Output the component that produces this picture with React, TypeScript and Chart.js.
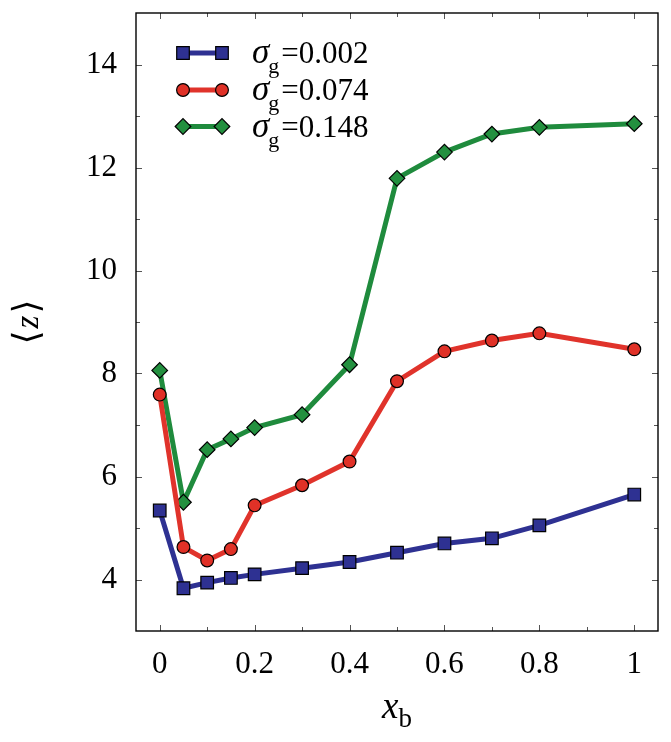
import React, { useEffect, useRef } from 'react';
import { Chart, registerables } from 'chart.js';

Chart.register(...registerables);

// Mean cluster size <z> versus x_b for three values of sigma_g
const xValues = [0, 0.05, 0.1, 0.15, 0.2, 0.3, 0.4, 0.5, 0.6, 0.7, 0.8, 1.0];
const zSigma002 = [5.34, 3.83, 3.94, 4.03, 4.1, 4.22, 4.34, 4.52, 4.7, 4.8, 5.05, 5.65];
const zSigma074 = [7.59, 4.63, 4.37, 4.59, 5.44, 5.83, 6.29, 7.85, 8.43, 8.64, 8.78, 8.47];
const zSigma148 = [8.06, 5.5, 6.52, 6.73, 6.95, 7.2, 8.17, 11.79, 12.3, 12.65, 12.78, 12.85];
const sigmaLabels = ['0.002', '0.074', '0.148'];

const xTicks = [0, 0.2, 0.4, 0.6, 0.8, 1];
const xMinorTicks = [0.1, 0.3, 0.5, 0.7, 0.9];
const yTicks = [4, 6, 8, 10, 12, 14];
const yMinorTicks = [5, 7, 9, 11, 13];

const SERIF = "'Liberation Serif', 'Times New Roman', 'DejaVu Serif', serif";

type Marker = 'rect' | 'circle' | 'rectRot';
const seriesStyles: { line: string; fill: string; marker: Marker; radius: number }[] = [
  { line: '#2e3192', fill: '#2e3192', marker: 'rect', radius: 8.9 },
  { line: '#e0332b', fill: '#e03127', marker: 'circle', radius: 6.4 },
  { line: '#1f8b3d', fill: '#23903f', marker: 'rectRot', radius: 7.8 },
];
const seriesValues = [zSigma002, zSigma074, zSigma148];

function drawMarker(ctx: CanvasRenderingContext2D, kind: Marker, x: number, y: number, r: number) {
  ctx.beginPath();
  if (kind === 'rect') {
    const h = r * Math.SQRT1_2;
    ctx.rect(x - h, y - h, 2 * h, 2 * h);
  } else if (kind === 'circle') {
    ctx.arc(x, y, r, 0, Math.PI * 2);
  } else {
    ctx.moveTo(x - r, y);
    ctx.lineTo(x, y - r);
    ctx.lineTo(x + r, y);
    ctx.lineTo(x, y + r);
    ctx.closePath();
  }
  ctx.fill();
  ctx.stroke();
}

const framePlugin = {
  id: 'frameAndTicks',
  beforeDatasetsDraw(chart: any) {
    const { ctx, chartArea } = chart;
    const { left, right, top, bottom } = chartArea;
    const xs = chart.scales.x;
    const ys = chart.scales.y;
    ctx.save();
    ctx.strokeStyle = '#555';
    ctx.lineWidth = 1;
    ctx.beginPath();
    const tickX = (v: number, len: number) => {
      const px = Math.round(xs.getPixelForValue(v)) + 0.5;
      ctx.moveTo(px, bottom);
      ctx.lineTo(px, bottom - len);
      ctx.moveTo(px, top);
      ctx.lineTo(px, top + len);
    };
    const tickY = (v: number, len: number) => {
      const py = Math.round(ys.getPixelForValue(v)) + 0.5;
      ctx.moveTo(left, py);
      ctx.lineTo(left + len, py);
      ctx.moveTo(right, py);
      ctx.lineTo(right - len, py);
    };
    xTicks.forEach((v) => tickX(v, 6));
    xMinorTicks.forEach((v) => tickX(v, 4));
    yTicks.forEach((v) => tickY(v, 6));
    yMinorTicks.forEach((v) => tickY(v, 4));
    ctx.stroke();
    ctx.strokeStyle = '#000';
    ctx.lineWidth = 1.4;
    ctx.strokeRect(left, top, right - left, bottom - top);
    ctx.restore();
  },
  afterDraw(chart: any) {
    const { ctx, chartArea } = chart;
    ctx.save();

    // legend
    const rowY = [53, 90, 126.5];
    seriesStyles.forEach((s, i) => {
      const y = rowY[i];
      ctx.strokeStyle = s.line;
      ctx.lineWidth = 5;
      ctx.beginPath();
      ctx.moveTo(183, y);
      ctx.lineTo(222, y);
      ctx.stroke();
      ctx.fillStyle = s.fill;
      ctx.strokeStyle = '#000';
      ctx.lineWidth = 1.2;
      drawMarker(ctx, s.marker, 183, y, s.radius);
      drawMarker(ctx, s.marker, 222, y, s.radius);

      ctx.fillStyle = '#000';
      ctx.textBaseline = 'alphabetic';
      ctx.textAlign = 'left';
      const base = y + 10;
      let x = 252;
      ctx.font = `italic 35px ${SERIF}`;
      ctx.fillText('σ', x, base);
      x += ctx.measureText('σ').width;
      ctx.font = `22px ${SERIF}`;
      ctx.fillText('g', x - 1, base + 10);
      x += ctx.measureText('g').width + 1;
      ctx.font = `31px ${SERIF}`;
      ctx.fillText('=' + sigmaLabels[i], x, base);
    });

    // x-axis title
    const cx = (chartArea.left + chartArea.right) / 2;
    ctx.font = `italic 37px ${SERIF}`;
    const wx = ctx.measureText('x').width;
    ctx.font = `27px ${SERIF}`;
    const wb = ctx.measureText('b').width;
    const x0 = cx - (wx + wb) / 2;
    ctx.font = `italic 37px ${SERIF}`;
    ctx.fillText('x', x0, 718);
    ctx.font = `27px ${SERIF}`;
    ctx.fillText('b', x0 + wx, 727);

    // y-axis title
    ctx.translate(29, (chartArea.top + chartArea.bottom) / 2);
    ctx.rotate(-Math.PI / 2);
    ctx.textBaseline = 'middle';
    ctx.font = `36px ${SERIF}`;
    const wl = ctx.measureText('⟨').width;
    const wr = ctx.measureText('⟩').width;
    ctx.font = `italic 33px ${SERIF}`;
    const wz = ctx.measureText('z').width;
    let tx = -(wl + wz + wr + 4) / 2;
    ctx.font = `36px ${SERIF}`;
    ctx.fillText('⟨', tx, 0);
    tx += wl + 2;
    ctx.font = `italic 33px ${SERIF}`;
    ctx.fillText('z', tx, 0);
    tx += wz + 2;
    ctx.font = `36px ${SERIF}`;
    ctx.fillText('⟩', tx, 0);
    ctx.restore();
  },
};

export default function App() {
  const canvasRef = useRef<HTMLCanvasElement | null>(null);

  useEffect(() => {
    const canvas = canvasRef.current;
    if (!canvas) return;
    const chart = new Chart(canvas, {
      type: 'line',
      data: {
        datasets: seriesValues.map((vals, i) => ({
          label: 'σg=' + sigmaLabels[i],
          data: xValues.map((x, k) => ({ x, y: vals[k] })),
          borderColor: seriesStyles[i].line,
          borderWidth: 5,
          backgroundColor: seriesStyles[i].fill,
          pointBackgroundColor: seriesStyles[i].fill,
          pointBorderColor: '#000',
          pointBorderWidth: 1.2,
          pointStyle: seriesStyles[i].marker,
          pointRadius: seriesStyles[i].radius,
          tension: 0,
          clip: false as any,
        })),
      },
      options: {
        animation: false,
        responsive: false,
        devicePixelRatio: 1,
        layout: { padding: { left: 0, top: 13, right: 13, bottom: 0 } },
        plugins: { legend: { display: false }, tooltip: { enabled: false } },
        scales: {
          x: {
            type: 'linear',
            min: -0.05,
            max: 1.05,
            grid: { display: false, drawTicks: false },
            border: { display: false },
            afterBuildTicks: (scale: any) => {
              scale.ticks = xTicks.map((value) => ({ value }));
            },
            afterFit: (scale: any) => {
              scale.height = 111;
              scale.paddingLeft = 0;
              scale.paddingRight = 0;
            },
            ticks: {
              color: '#000',
              padding: 15,
              maxRotation: 0,
              autoSkip: false,
              font: { family: SERIF, size: 31 },
              callback: (v: any) => String(v),
            },
          },
          y: {
            type: 'linear',
            min: 3,
            max: 15,
            grid: { display: false, drawTicks: false },
            border: { display: false },
            afterBuildTicks: (scale: any) => {
              scale.ticks = yTicks.map((value) => ({ value }));
            },
            afterFit: (scale: any) => {
              scale.width = 136;
              scale.paddingTop = 0;
              scale.paddingBottom = 0;
            },
            ticks: {
              color: '#000',
              padding: 19,
              autoSkip: false,
              font: { family: SERIF, size: 31 },
              callback: (v: any) => String(v),
            },
          },
        },
      },
      plugins: [framePlugin],
    });
    return () => chart.destroy();
  }, []);

  return (
    <div style={{ position: 'absolute', left: 0, top: 0, width: 671, height: 742, background: '#fff' }}>
      <canvas ref={canvasRef} width={671} height={742} style={{ width: 671, height: 742, display: 'block' }} />
    </div>
  );
}
